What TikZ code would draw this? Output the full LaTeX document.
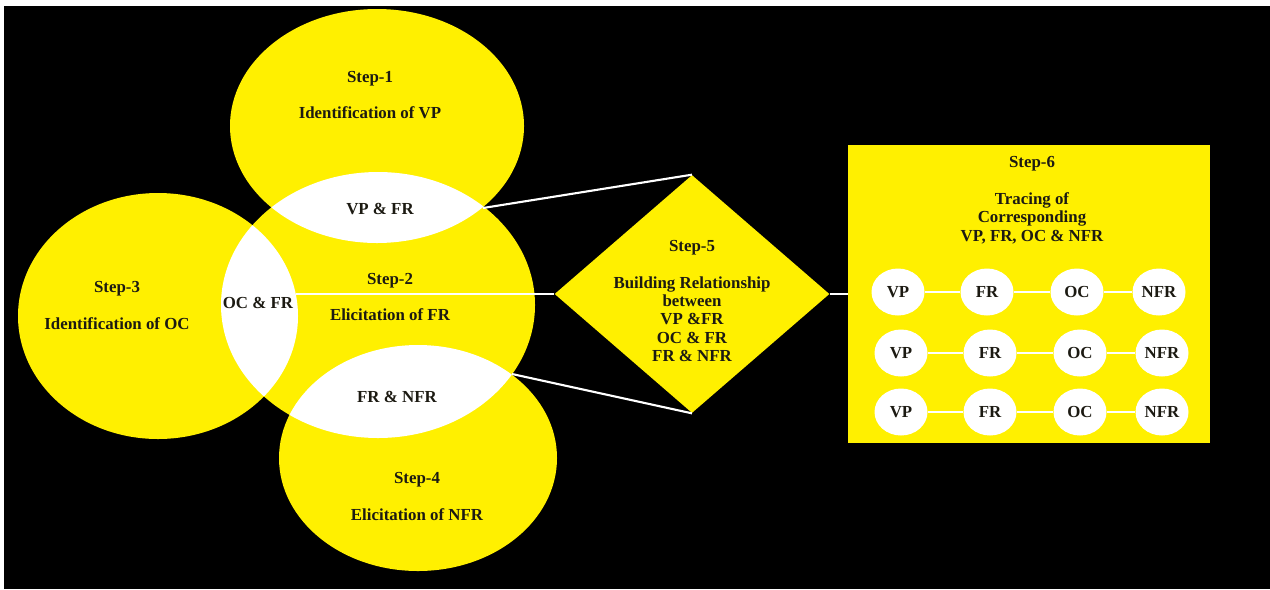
\documentclass[tikz,border=0pt]{standalone}
\usepackage{fontspec}
\setmainfont{Liberation Serif}
\usetikzlibrary{shapes.geometric}

\definecolor{stepyellow}{RGB}{255,240,0}
\definecolor{stepink}{RGB}{28,26,18}

\tikzset{
	steptext/.style = {font=\fontsize{9.6}{10.5}\selectfont\bfseries, text=stepink, align=center, inner sep=0pt},
	tieline/.style = {draw=white, line width=1.2pt},
	tracenode/.style = {ellipse, fill=white, minimum width=1.06cm, minimum height=0.94cm, inner sep=0pt, font=\fontsize{9.6}{10.5}\selectfont\bfseries, text=stepink}
}

\begin{document}
\begin{tikzpicture}[x=0.02cm, y=-0.02cm]
	\useasboundingbox (0,0) rectangle (1270,589);
	\fill[white] (0,0) rectangle (1270,589);
	\fill[black] (4,6) rectangle (1270,589);
	
	% the four steps
	\fill[stepyellow] (377,126) ellipse [x radius=147, y radius=117];
	\fill[stepyellow] (378,305) ellipse [x radius=157, y radius=133];
	\fill[stepyellow] (158,316) ellipse [x radius=140, y radius=123];
	\fill[stepyellow] (418,458) ellipse [x radius=139, y radius=113];
	
	% overlaps
	\begin{scope}
		\clip (378,305) ellipse [x radius=157, y radius=133];
		\fill[white] (377,126) ellipse [x radius=147, y radius=117];
		\fill[white] (158,316) ellipse [x radius=140, y radius=123];
		\fill[white] (418,458) ellipse [x radius=139, y radius=113];
	\end{scope}
	
	\node[steptext] (step1) at (370,95) {Step-1\\[10.5pt]Identification of VP};
	\node[steptext] (step2) at (390,297) {Step-2\\[10.5pt]Elicitation of FR};
	\node[steptext] (step3) at (117,305.5) {Step-3\\[10.5pt]Identification of OC};
	\node[steptext] (step4) at (417,496.5) {Step-4\\[10.5pt]Elicitation of NFR};
	
	\node[steptext] (vpfr) at (380,209) {VP \& FR};
	\node[steptext] (ocfr) at (258,303) {OC \& FR};
	\node[steptext] (frnfr) at (397,397) {FR \& NFR};
	
	\coordinate (vpfrtip) at (483,208);
	\coordinate (ocfrtip) at (296,294);
	\coordinate (frnfrtip) at (512,374);
	
	% step 5
	\node[diamond, fill=stepyellow, minimum width=5.5cm, minimum height=4.76cm, inner sep=0pt] (step5) at (692,294) {};
	\node[steptext] (step5text) at (692,301) {Step-5\\[10.5pt]Building Relationship\\between\\VP \&FR\\OC \& FR\\FR \& NFR};
	
	% step 6
	\node[rectangle, fill=stepyellow, minimum width=7.24cm, minimum height=5.98cm, inner sep=0pt] (step6) at (1029,294) {};
	\node[steptext] (step6text) at (1032,200) {Step-6\\[10.5pt]Tracing of\\Corresponding\\VP, FR, OC \& NFR};
	
	\draw[tieline] (vpfrtip) -- (step5.north);
	\draw[tieline] (ocfrtip) -- (step5.west);
	\draw[tieline] (frnfrtip) -- (step5.south);
	\draw[tieline] (step5.east) -- (step6.west);
	
	\foreach \r/\y/\dx in {1/292/0, 2/353/3, 3/412/3}{
		\node[tracenode] (vp\r) at (898+\dx,\y) {VP};
		\node[tracenode] (fr\r) at (987+\dx,\y) {FR};
		\node[tracenode] (oc\r) at (1077+\dx,\y) {OC};
		\node[tracenode] (nfr\r) at (1159+\dx,\y) {NFR};
		\draw[tieline] (vp\r) -- (fr\r);
		\draw[tieline] (fr\r) -- (oc\r);
		\draw[tieline] (oc\r) -- (nfr\r);
	}
\end{tikzpicture}
\end{document}
